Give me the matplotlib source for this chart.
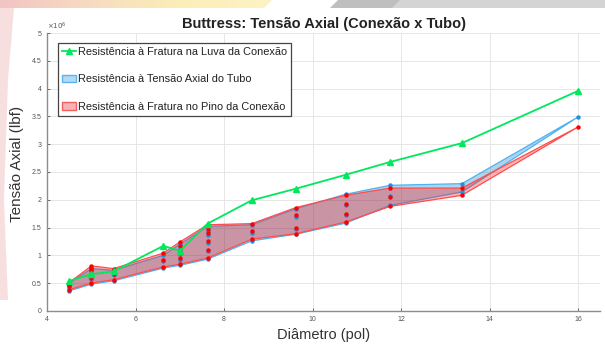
import numpy as np
import matplotlib
matplotlib.use("Agg")
import matplotlib.pyplot as plt
from matplotlib.lines import Line2D
from matplotlib.patches import Patch, Polygon
from matplotlib.ticker import FuncFormatter
from matplotlib.colors import LinearSegmentedColormap

plt.rcParams["font.family"] = ["Liberation Sans", "DejaVu Sans"]

# diâmetros nominais (pol)
diametros = [4.5, 5, 5.5, 6.625, 7, 7.625, 8.625, 9.625, 10.75, 11.75, 13.375, 16]

# resistência da luva (x 1e6 lbf)
luva = [0.54, 0.66, 0.71, 1.17, 1.08, 1.57, 1.99, 2.20, 2.45, 2.68, 3.02, 3.96]

# tensão axial do tubo, um valor por peso (x 1e6 lbf)
tubo = [
    [0.36, 0.42, 0.46, 0.50],
    [0.48, 0.58, 0.66, 0.72, 0.76],
    [0.54, 0.64, 0.73],
    [0.77, 0.89, 1.00],
    [0.82, 0.92, 1.03, 1.12, 1.20],
    [0.93, 1.07, 1.22, 1.36, 1.43, 1.52],
    [1.26, 1.40, 1.55],
    [1.38, 1.48, 1.69, 1.84],
    [1.58, 1.73, 1.90, 2.10],
    [1.90, 2.07, 2.26],
    [2.14, 2.29],
    [3.49],
]

# fratura no pino da conexão (x 1e6 lbf)
pino = [
    [0.38, 0.44, 0.47, 0.51],
    [0.50, 0.60, 0.73, 0.77, 0.81],
    [0.56, 0.67, 0.76],
    [0.79, 0.92, 1.04],
    [0.84, 0.95, 1.07, 1.16, 1.24],
    [0.95, 1.10, 1.26, 1.40, 1.47, 1.55],
    [1.29, 1.43, 1.57],
    [1.39, 1.50, 1.72, 1.86],
    [1.60, 1.75, 1.92, 2.08],
    [1.88, 2.05, 2.21],
    [2.08, 2.21],
    [3.31],
]

fig = plt.figure(figsize=(6.05, 3.45), dpi=100)

# ---------------------------
# fundo do slide (faixa decorativa)
# ---------------------------
bg = fig.add_axes([0, 0, 1, 1], zorder=-10)
bg.set_xlim(0, 605)
bg.set_ylim(345, 0)
bg.axis("off")
grad = np.linspace(0, 1, 256)[None, :]
cmap = LinearSegmentedColormap.from_list("faixa", ["#f2c4c4", "#f7dcc0", "#fbeeb8", "#fdf3c4"])
img = bg.imshow(grad, cmap=cmap, extent=(0, 272, 8, 0), aspect="auto")
img.set_clip_path(Polygon([(0, 0), (272, 0), (264, 8), (0, 8)], closed=True, transform=bg.transData))
bg.add_patch(Polygon([(338, 0), (600, 0), (600, 8), (330, 8)], closed=True, color="#bfbfbf", lw=0))
bg.add_patch(Polygon([(400, 0), (605, 0), (605, 8), (392, 8)], closed=True, color="#d4d4d4", lw=0))
bg.add_patch(Polygon([(0, 8), (14, 8), (8, 80), (4, 200), (8, 300), (0, 300)], closed=True,
                     color="#f6d8d8", lw=0, alpha=0.8))

# ---------------------------
# gráfico
# ---------------------------
ax = fig.add_axes([0.078, 0.099, 0.914, 0.805])

tubo_min = [min(v) for v in tubo]
tubo_max = [max(v) for v in tubo]
pino_min = [min(v) for v in pino]
pino_max = [max(v) for v in pino]

ax.fill(diametros + diametros[::-1], tubo_max + tubo_min[::-1],
        facecolor=(0, 0.447, 0.741, 0.3), edgecolor=(0.3, 0.70, 0.95), lw=0.9, zorder=2)
ax.fill(diametros + diametros[::-1], pino_max + pino_min[::-1],
        facecolor=(1, 0, 0, 0.3), edgecolor=(1, 0.3, 0.3), lw=0.9, zorder=3)

for d, v in zip(diametros, tubo):
    ax.plot([d] * len(v), v, "o", color="#1e90e8", ms=3.2, mec="none", zorder=4)
for d, v in zip(diametros, pino):
    ax.plot([d] * len(v), v, "o", color="#ff0000", ms=3.2, mec="none", zorder=5)

ax.plot(diametros, luva, "-^", color="#00e85c", lw=1.3, ms=5, zorder=6)

ax.set_xlim(4, 16.5)
ax.set_ylim(0, 5)
ax.set_xticks([4, 6, 8, 10, 12, 14, 16])
ax.set_yticks(np.arange(0, 5.01, 0.5))
ax.yaxis.set_major_formatter(FuncFormatter(lambda v, p: "%g" % v))
ax.grid(True, color="#e6e6e6", lw=0.7)
ax.set_axisbelow(True)
for s in ["top", "right"]:
    ax.spines[s].set_visible(False)
for s in ["left", "bottom"]:
    ax.spines[s].set_color("#8c8c8c")
    ax.spines[s].set_linewidth(1.0)
ax.tick_params(labelsize=5, colors="#555555", length=2.5, width=0.6, direction="in", pad=4)
ax.text(0.0, 1.003, r"$\times10^{6}$", transform=ax.transAxes, fontsize=5, color="#555555",
        ha="left", va="bottom")

ax.set_title("Buttress: Tensão Axial (Conexão x Tubo)", fontsize=10.5, fontweight="bold",
             color="#222222", pad=4)
ax.set_xlabel("Diâmetro (pol)", fontsize=10.5, color="#333333", labelpad=3)
ax.set_ylabel("Tensão Axial (lbf)", fontsize=11, color="#333333")
ax.yaxis.set_label_coords(-0.042, 0.53)

handles = [
    Line2D([], [], color="#00e85c", marker="^", lw=1.3, ms=4.5),
    Patch(facecolor="#b3d9f5", edgecolor="#5ab4f0", lw=1),
    Patch(facecolor="#f7b3b3", edgecolor="#f06060", lw=1),
]
labels = [
    "Resistência à Fratura na Luva da Conexão",
    "Resistência à Tensão Axial do Tubo",
    "Resistência à Fratura no Pino da Conexão",
]
leg = ax.legend(handles, labels, loc="upper left", bbox_to_anchor=(0.02, 0.965), fontsize=7.9,
                fancybox=False, framealpha=1, edgecolor="#444444", labelspacing=1.6,
                handlelength=1.3, handletextpad=0.15, borderpad=0.35, borderaxespad=0)
leg.get_frame().set_linewidth(0.9)
for t in leg.get_texts():
    t.set_color("#222222")

fig.savefig("out.png", dpi=100)
